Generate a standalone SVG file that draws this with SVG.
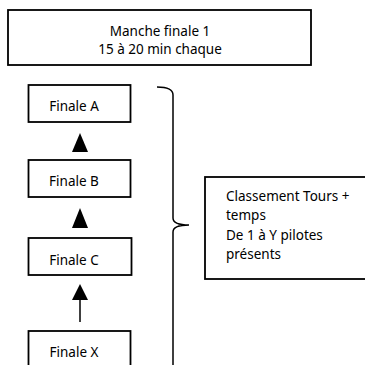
<svg xmlns="http://www.w3.org/2000/svg" width="365" height="365" viewBox="0 0 365 365">
<style>
.box{fill:#fff;stroke:#000;stroke-width:1.8}
.t{font-family:"Noto Sans","Open Sans",sans-serif;font-size:13.5px;fill:#000}
.c{text-anchor:middle}
.ln{fill:none;stroke:#000;stroke-width:1.5}
.tri{fill:#000}
</style>
<rect width="365" height="365" fill="#fff"/>
<g id="connectors">
<polygon class="tri" points="80,133 72,152 88,152"/>
<polygon class="tri" points="80,208 72,228 88,228"/>
<polygon class="tri" points="80,284 72,300 88,300"/>
<line class="ln" x1="80" y1="300" x2="80" y2="322"/>
<path class="ln" d="M157,87 Q173,87 173,95 L173,218 Q173,225 189,225 Q173,225 173,232 L173,370"/>
</g>
<g id="top">
<rect class="box" x="8" y="10" width="303" height="55"/>
<text class="t c" x="160" y="36">Manche finale 1</text>
<text class="t c" x="160" y="54">15 à 20 min chaque</text>
</g>
<g id="finaleA">
<rect class="box" x="28.5" y="85" width="102" height="37"/>
<text class="t c" x="74" y="111">Finale A</text>
</g>
<g id="finaleB">
<rect class="box" x="28.5" y="160" width="102" height="37"/>
<text class="t c" x="74" y="186">Finale B</text>
</g>
<g id="finaleC">
<rect class="box" x="28.5" y="238" width="103" height="37"/>
<text class="t c" x="74" y="265">Finale C</text>
</g>
<g id="finaleX">
<rect class="box" x="28.5" y="331" width="102" height="40"/>
<text class="t c" x="74" y="357">Finale X</text>
</g>
<g id="classement">
<rect class="box" x="205" y="177" width="170" height="102"/>
<text class="t" x="226" y="201">Classement Tours +</text>
<text class="t" x="226" y="220">temps</text>
<text class="t" x="226" y="240">De 1 à Y pilotes</text>
<text class="t" x="226" y="259">présents</text>
</g>
</svg>
